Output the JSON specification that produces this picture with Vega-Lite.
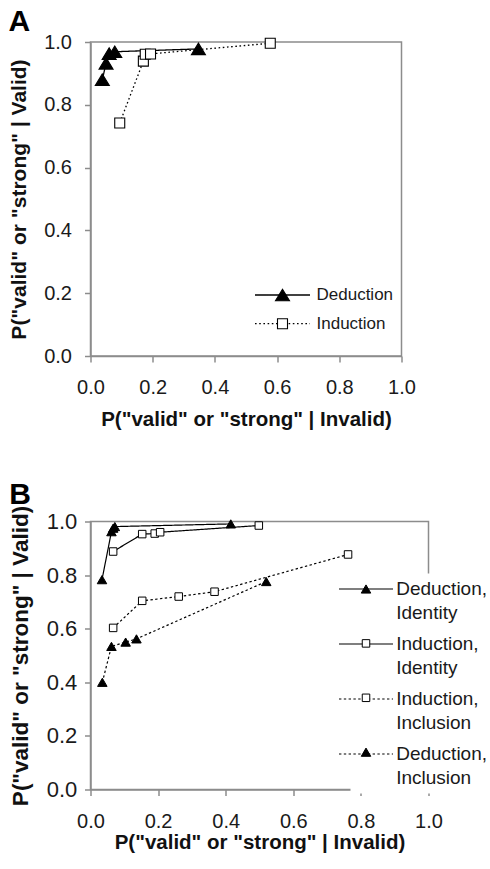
{
  "$schema": "https://vega.github.io/schema/vega-lite/v6.json",
  "background": "white",
  "padding": {"left": 7.5, "top": 6, "right": 0, "bottom": 0},
  "spacing": 48.5,
  "align": "none",
  "resolve": {
    "scale": {"shape": "independent", "strokeDash": "independent", "fill": "independent"},
    "legend": {"shape": "independent", "strokeDash": "independent", "fill": "independent"}
  },
  "config": {
    "font": "Liberation Sans",
    "view": {"stroke": "#8c8c8c", "strokeWidth": 1.5},
    "axis": {
      "grid": false, "domainColor": "#8c8c8c", "domainWidth": 1.5,
      "tickColor": "#8c8c8c", "tickWidth": 1.5, "tickSize": 6,
      "labelFont": "Liberation Sans", "titleFont": "Liberation Sans",
      "labelColor": "#1a1a1a", "titleColor": "#111111",
      "titleFontWeight": "bold", "labelFlush": false, "labelOverlap": false
    },
    "legend": {"labelFont": "Liberation Sans", "labelColor": "#1a1a1a"}
  },
  "vconcat": [
    {
      "width": 311, "height": 314,
      "title": {"text": "A", "anchor": "start", "frame": "bounds", "fontSize": 30, "fontWeight": "bold", "offset": -5, "color": "#000000", "font": "Liberation Sans"},
      "data": {"values": [
        {"task": "Deduction", "fa": 0.038, "hit": 0.880},
        {"task": "Deduction", "fa": 0.050, "hit": 0.932},
        {"task": "Deduction", "fa": 0.060, "hit": 0.963},
        {"task": "Deduction", "fa": 0.078, "hit": 0.969},
        {"task": "Deduction", "fa": 0.347, "hit": 0.978},
        {"task": "Induction", "fa": 0.094, "hit": 0.742},
        {"task": "Induction", "fa": 0.170, "hit": 0.939},
        {"task": "Induction", "fa": 0.176, "hit": 0.961},
        {"task": "Induction", "fa": 0.193, "hit": 0.962},
        {"task": "Induction", "fa": 0.578, "hit": 0.996}
      ]},
      "encoding": {
        "x": {"field": "fa", "type": "quantitative", "scale": {"domain": [0, 1]},
              "axis": {"values": [0, 0.2, 0.4, 0.6, 0.8, 1.0], "format": ".1f", "title": "P(\"valid\" or \"strong\" | Invalid)", "titleFontSize": 20.5, "labelFontSize": 20, "labelPadding": 15.5, "titlePadding": 12}},
        "y": {"field": "hit", "type": "quantitative", "scale": {"domain": [0, 1]},
              "axis": {"values": [0, 0.2, 0.4, 0.6, 0.8, 1.0], "format": ".1f", "title": "P(\"valid\" or \"strong\" | Valid)", "titleFontSize": 21, "labelFontSize": 20, "labelPadding": 13, "titlePadding": 14.2}}
      },
      "layer": [
        {
          "mark": {"type": "line", "color": "#000000", "strokeWidth": 1.3},
          "encoding": {
            "strokeDash": {"field": "task", "type": "nominal",
              "scale": {"domain": ["Deduction", "Induction"], "range": [[1, 0], [1.6, 2.6]]},
              "legend": {"orient": "none", "legendX": 183.5, "legendY": 244.5, "padding": 0, "symbolType": "M-5.5,0H5.5", "symbolSize": 100, "symbolStrokeWidth": 1.3, "symbolStrokeColor": "#000000", "labelFontSize": 17, "labelOffset": 25.5, "rowPadding": 10.7, "zindex": 1, "title": null}}
          }
        },
        {
          "mark": {"type": "point", "filled": true, "stroke": "#000000", "strokeWidth": 1.1, "opacity": 1, "size": 100,
                   "shape": {"expr": "datum.value === 'Deduction' ? 'M0,-1.15L1.4,1.15L-1.4,1.15Z' : 'M-1,-1H1V1H-1Z'"}},
          "encoding": {
            "shape": {"field": "task", "type": "nominal", "sort": ["Deduction", "Induction"],
              "scale": {"range": ["M0,-1.15L1.4,1.15L-1.4,1.15Z", "M-1,-1H1V1H-1Z"]},
              "legend": null},
            "fill": {"field": "task", "type": "nominal", "sort": ["Deduction", "Induction"],
              "scale": {"range": ["#000000", "#ffffff"]},
              "legend": {"orient": "none", "legendX": 183.5, "legendY": 244.5, "padding": 0, "symbolSize": 100, "symbolStrokeWidth": 1.1, "symbolStrokeColor": "#000000", "labelFontSize": 17, "labelOffset": 25.5, "labelOpacity": 0, "rowPadding": 10.7, "zindex": 2, "title": null}}
          }
        }
      ]
    },
    {
      "width": 338, "height": 268,
      "title": {"text": "B", "anchor": "start", "frame": "bounds", "fontSize": 30, "fontWeight": "bold", "offset": -5, "color": "#000000", "font": "Liberation Sans"},
      "data": {"values": [
        {"cond": "Deduction, Identity", "fa": 0.034, "hit": 0.783},
        {"cond": "Deduction, Identity", "fa": 0.062, "hit": 0.962},
        {"cond": "Deduction, Identity", "fa": 0.067, "hit": 0.975},
        {"cond": "Deduction, Identity", "fa": 0.072, "hit": 0.981},
        {"cond": "Deduction, Identity", "fa": 0.415, "hit": 0.991},
        {"cond": "Induction, Identity", "fa": 0.067, "hit": 0.888},
        {"cond": "Induction, Identity", "fa": 0.153, "hit": 0.953},
        {"cond": "Induction, Identity", "fa": 0.190, "hit": 0.955},
        {"cond": "Induction, Identity", "fa": 0.206, "hit": 0.960},
        {"cond": "Induction, Identity", "fa": 0.498, "hit": 0.985},
        {"cond": "Induction, Inclusion", "fa": 0.067, "hit": 0.603},
        {"cond": "Induction, Inclusion", "fa": 0.153, "hit": 0.704},
        {"cond": "Induction, Inclusion", "fa": 0.261, "hit": 0.720},
        {"cond": "Induction, Inclusion", "fa": 0.367, "hit": 0.738},
        {"cond": "Induction, Inclusion", "fa": 0.762, "hit": 0.877},
        {"cond": "Deduction, Inclusion", "fa": 0.035, "hit": 0.400},
        {"cond": "Deduction, Inclusion", "fa": 0.062, "hit": 0.534},
        {"cond": "Deduction, Inclusion", "fa": 0.104, "hit": 0.550},
        {"cond": "Deduction, Inclusion", "fa": 0.136, "hit": 0.562},
        {"cond": "Deduction, Inclusion", "fa": 0.520, "hit": 0.776}
      ]},
      "encoding": {
        "x": {"field": "fa", "type": "quantitative", "scale": {"domain": [0, 1]},
              "axis": {"values": [0, 0.2, 0.4, 0.6, 0.8, 1.0], "format": ".1f", "title": "P(\"valid\" or \"strong\" | Invalid)", "titleFontSize": 20.5, "labelFontSize": 20, "labelPadding": 15.5, "titlePadding": 1}},
        "y": {"field": "hit", "type": "quantitative", "scale": {"domain": [0, 1]},
              "axis": {"values": [0, 0.2, 0.4, 0.6, 0.8, 1.0], "format": ".1f", "title": "P(\"valid\" or \"strong\" | Valid)", "titleFontSize": 22.5, "labelFontSize": 22, "labelPadding": 7.7, "titlePadding": 14}}
      },
      "layer": [
        {
          "mark": {"type": "line", "color": "#000000", "strokeWidth": 1.2},
          "encoding": {
            "strokeDash": {"field": "cond", "type": "nominal",
              "scale": {"domain": ["Deduction, Identity", "Induction, Identity", "Induction, Inclusion", "Deduction, Inclusion"], "range": [[1, 0], [1, 0], [2.4, 2.4], [2.4, 2.4]]},
              "legend": {"orient": "none", "legendX": 260, "legendY": 52, "padding": 6, "fillColor": "#ffffff", "symbolType": "M-5.4,0H5.4", "symbolSize": 100, "symbolStrokeWidth": 1.2, "symbolStrokeColor": "#000000", "labelFontSize": 19, "labelOffset": 20.7, "labelBaseline": "top", "labelExpr": "split(datum.label, ' ')", "rowPadding": 12, "zindex": 1, "title": null,
                "encode": {"labels": {"update": {"dy": {"value": -9}, "lineHeight": {"value": 23.5}}}}}}
          }
        },
        {
          "mark": {"type": "point", "filled": true, "stroke": "#000000", "strokeWidth": 1, "opacity": 1, "size": 100,
                   "shape": {"expr": "indexof(datum.value, 'Deduction') === 0 ? 'M0,-0.82L0.95,0.82L-0.95,0.82Z' : 'M-0.75,-0.75H0.75V0.75H-0.75Z'"}},
          "encoding": {
            "shape": {"field": "cond", "type": "nominal", "sort": ["Deduction, Identity", "Induction, Identity", "Induction, Inclusion", "Deduction, Inclusion"],
              "scale": {"range": ["M0,-0.82L0.95,0.82L-0.95,0.82Z", "M-0.75,-0.75H0.75V0.75H-0.75Z", "M-0.75,-0.75H0.75V0.75H-0.75Z", "M0,-0.82L0.95,0.82L-0.95,0.82Z"]},
              "legend": null},
            "fill": {"field": "cond", "type": "nominal", "sort": ["Deduction, Identity", "Induction, Identity", "Induction, Inclusion", "Deduction, Inclusion"],
              "scale": {"range": ["#000000", "#ffffff", "#ffffff", "#000000"]},
              "legend": {"orient": "none", "legendX": 260, "legendY": 52, "padding": 6, "symbolSize": 100, "symbolStrokeWidth": 1, "symbolStrokeColor": "#000000", "labelFontSize": 19, "labelOffset": 20.7, "labelBaseline": "top", "labelExpr": "split(datum.label, ' ')", "labelOpacity": 0, "rowPadding": 4.4, "zindex": 2, "title": null,
                "encode": {"labels": {"update": {"dy": {"value": -9}, "lineHeight": {"value": 23.5}}}}}}
          }
        }
      ]
    }
  ]
}
